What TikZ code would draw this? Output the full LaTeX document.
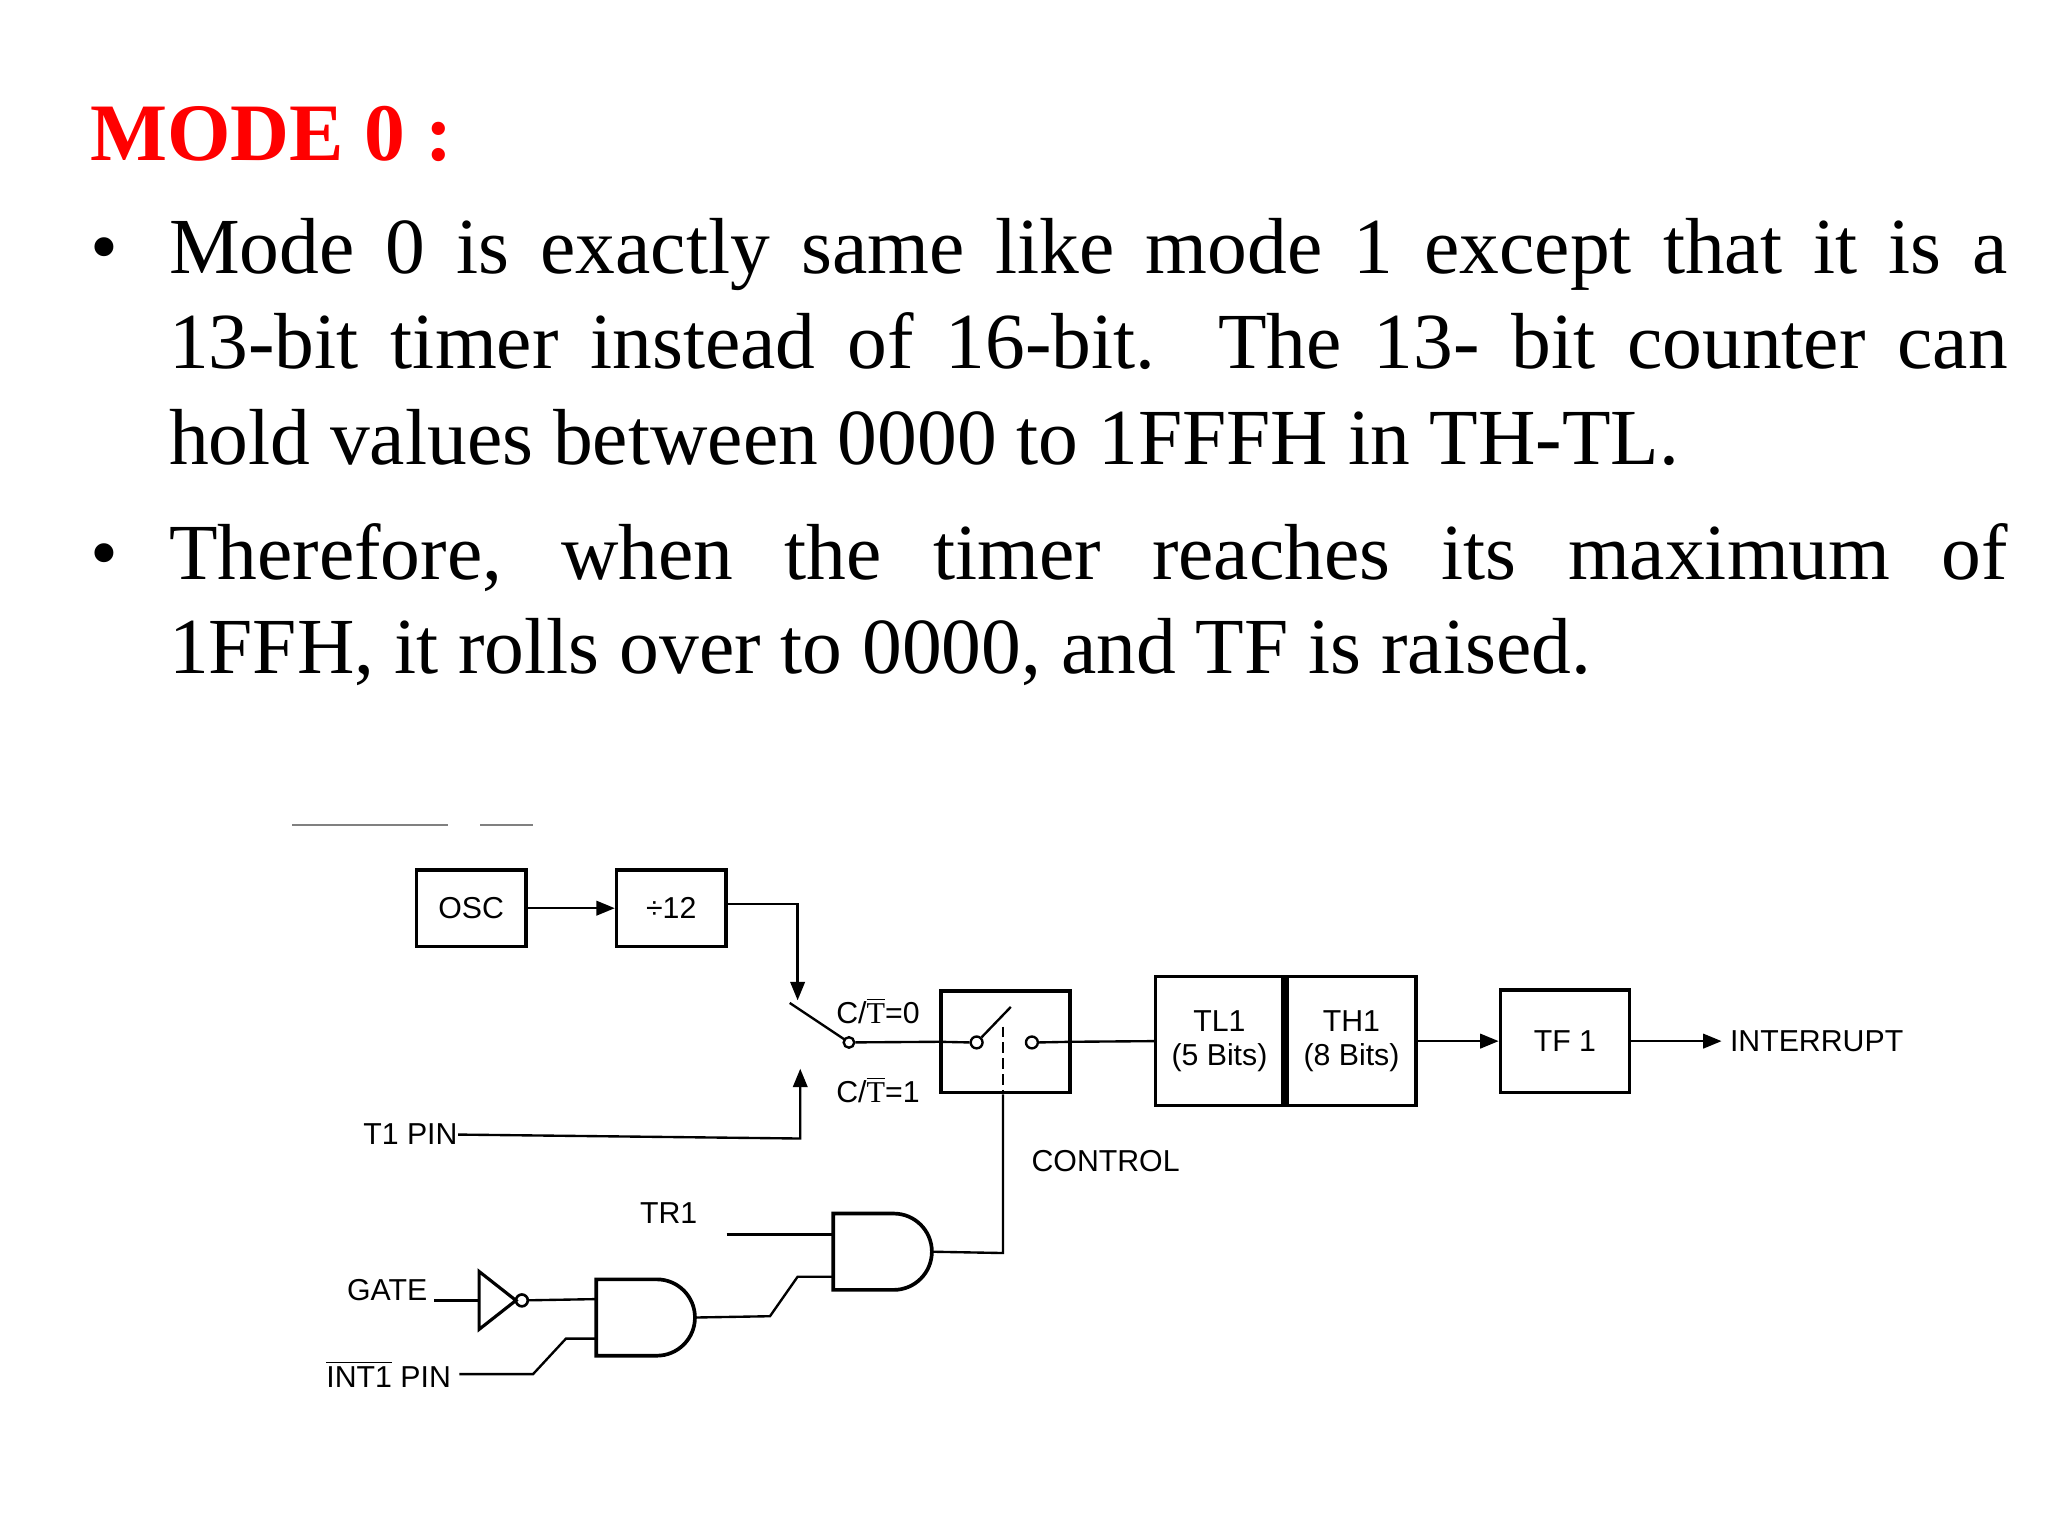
\documentclass[tikz,border=0pt]{standalone}
\usepackage{fontspec}
\setmainfont{Liberation Serif}
\newfontfamily\dfont{Liberation Sans}
\usetikzlibrary{arrows.meta,calc}
\begin{document}
\begin{tikzpicture}[x=0.5pt,y=-0.5pt,
  body/.style={anchor=base west,inner sep=0pt,font=\fontsize{30.2}{36}\selectfont},
  blk/.style={draw,line width=1.4pt,minimum width=41.5pt,minimum height=29pt,inner sep=0pt,font=\dfont\fontsize{11.5}{13}\selectfont},
  lbl/.style={inner sep=0pt,font=\dfont\fontsize{11.5}{13}\selectfont},
  wire/.style={line width=0.9pt},
  arr/.style={wire,-{Triangle[length=7pt,width=5.5pt]}}]
\useasboundingbox (0,0) rectangle (1556,1167);
\fill[white] (0,0) rectangle (1556,1167);
% text
\node[body,anchor=base west,text=red,font=\bfseries\fontsize{31}{36}\selectfont] (title) at (68,122) {MODE 0 :};
\node[body] (b1) at (68,208) {•};
\node[body] (l1) at (128,208) {\makebox[698.5pt][s]{Mode 0 is exactly same like mode 1 except that it is a}};
\node[body] (l2) at (128,280) {\makebox[698.5pt][s]{13-bit timer instead of 16-bit. The 13- bit counter can}};
\node[body] (l3) at (128,353) {hold values between 0000 to 1FFFH in TH-TL.};
\node[body] (b2) at (68,440) {•};
\node[body] (l4) at (128,440) {\makebox[698.5pt][s]{Therefore, when the timer reaches its maximum of}};
\node[body] (l5) at (128,512) {1FFH, it rolls over to 0000, and TF is raised.};
% faint top line
\coordinate (fa) at (222,627); \coordinate (fb) at (340,627);
\coordinate (fc) at (365,627); \coordinate (fd) at (405,627);
\draw[gray,line width=0.8pt] (fa)--(fb) (fc)--(fd);
% blocks
\node[blk] (osc) at (358,690) {OSC};
\node[blk] (div) at (510,690) {÷12};
\draw[arr] (osc.east) -- (div.west);
\coordinate (d1) at (606,687); \coordinate (d2) at (606,760);
\draw[arr] (div.east|-d1) -- (d1) -- (d2);
\coordinate (pivot) at (645,792);
\coordinate (levtop) at (600,762);
\draw[wire] (levtop) -- ($(pivot)+(-3,-2)$);
\node[circle,draw,line width=0.9pt,minimum size=4pt,inner sep=0pt] (pc) at (pivot) {};
\node[lbl,anchor=west] (ct0) at (635,768) {C/$\overline{\mathrm{T}}$=0};
\node[lbl,anchor=west] (ct1) at (635,828) {C/$\overline{\mathrm{T}}$=1};
\node[lbl,anchor=east] (t1) at (348,862) {T1 PIN};
\coordinate (t1a) at (608,865); \coordinate (t1b) at (608,812);
\draw[arr] (t1.east) -- (t1a) -- (t1b);
% switch box
\node[draw,line width=1.4pt,minimum width=49pt,minimum height=38.5pt,inner sep=0pt] (sw) at (764,791.5) {};
\draw[wire] (pc) -- (sw.west);
\node[circle,draw,line width=0.9pt,minimum size=4.5pt,inner sep=0pt] (sc1) at (742,792) {};
\node[circle,draw,line width=0.9pt,minimum size=4.5pt,inner sep=0pt] (sc2) at (784,792) {};
\coordinate (swl) at (768,765);
\draw[wire] (sc1) -- (swl);
\draw[wire] (sw.west) -- (sc1.west);
\draw[wire] (sc2.east) -- (sw.east);
\coordinate (dsh1) at (762,780); \coordinate (dsh2) at (762,830);
\draw[wire,dash pattern=on 4pt off 2pt] (dsh1) -- (dsh2);
% counters
\node[blk,minimum width=48.5pt,minimum height=49pt,align=center] (tl) at (926.5,791) {TL1\\(5 Bits)};
\node[blk,minimum width=49pt,minimum height=49pt,align=center,anchor=west] (th) at (tl.east) {TH1\\(8 Bits)};
\draw[wire] (sw.east) -- (tl.west);
\node[blk,minimum width=49pt,minimum height=39pt] (tf) at (1189,791) {TF 1};
\draw[arr] (th.east) -- (tf.west);
\node[lbl,anchor=west,inner xsep=3pt] (intr) at (1308,791) {INTERRUPT};
\draw[arr] (tf.east) -- (intr.west);
\node[lbl] (ctl) at (840,882) {CONTROL};
% gates
\coordinate (g2) at (633,922);
\draw[line width=1.4pt] (g2) -- ++(46,0) arc[start angle=-90,end angle=90,radius=29] -- ++(-46,0) -- cycle;
\coordinate (g2o) at (708,951);
\coordinate (g2a) at (633,938); \coordinate (g2b) at (633,970);
\coordinate (g1) at (453,972);
\draw[line width=1.4pt] (g1) -- ++(46,0) arc[start angle=-90,end angle=90,radius=29] -- ++(-46,0) -- cycle;
\coordinate (g1o) at (528,1001);
\coordinate (g1a) at (453,987); \coordinate (g1b) at (453,1017);
\coordinate (c1) at (762,952);
\draw[wire] (sw.south-|dsh2) -- (c1) -- (g2o);
\node[lbl] (tr1) at (508,922) {TR1};
\coordinate (tr1s) at (552,938);
\draw[wire] (tr1s) -- (g2a);
\coordinate (k1) at (606,970); \coordinate (k2) at (585,1000);
\draw[wire] (g2b) -- (k1) -- (k2) -- (g1o);
% NOT gate
\coordinate (n1) at (364,966); \coordinate (n2) at (364,1010); \coordinate (n3) at (392,988);
\draw[line width=1.2pt] (n1) -- (n3) -- (n2) -- cycle;
\node[circle,draw,line width=1pt,minimum size=4.5pt,inner sep=0pt] (nb) at (396.5,988) {};
\node[lbl,anchor=east] (gate) at (325,980) {GATE};
\coordinate (gl) at (330,988);
\draw[wire] (gl) -- (n1|-gl);
\draw[wire] (nb) -- (g1a);
\node[lbl,anchor=east] (int1) at (343,1044) {$\overline{\hbox{INT1}}$ PIN};
\coordinate (i1) at (405,1044); \coordinate (i2) at (430,1017);
\draw[wire] ($(int1.east)+(6,0)$) -- (i1) -- (i2) -- (g1b);
\end{tikzpicture}
\end{document}
